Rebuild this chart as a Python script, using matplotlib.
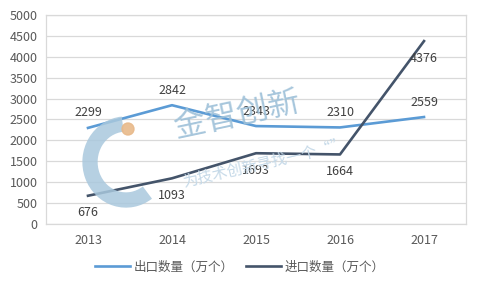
import matplotlib
matplotlib.use("Agg")
import matplotlib.pyplot as plt
from matplotlib.patches import Arc, Circle

plt.rcParams['font.family'] = ['Noto Sans CJK SC', 'DejaVu Sans']

years = ['2013', '2014', '2015', '2016', '2017']
export_qty = [2299, 2842, 2343, 2310, 2559]
import_qty = [676, 1093, 1693, 1664, 4376]
yticks = list(range(0, 5001, 500))

blue = '#5B9BD5'
dark = '#44546A'
text_gray = '#595959'
grid_gray = '#D9D9D9'


def main():
    fig = plt.figure(figsize=(4.8, 2.88), dpi=100)
    ax = fig.add_axes([46 / 480, 64 / 288, 420 / 480, 209 / 288])

    x = list(range(len(years)))
    ax.plot(x, export_qty, color=blue, lw=1.9, label='出口数量（万个）', zorder=3)
    ax.plot(x, import_qty, color=dark, lw=1.9, label='进口数量（万个）', zorder=3)

    for xi, v in zip(x, export_qty):
        ax.annotate(str(v), (xi, v), xytext=(0, 15), textcoords='offset pixels',
                    ha='center', va='center', fontsize=9, color='#404040', zorder=4)
    for xi, v in zip(x, import_qty):
        ax.annotate(str(v), (xi, v), xytext=(0, -17), textcoords='offset pixels',
                    ha='center', va='center', fontsize=9, color='#404040', zorder=4)

    ax.set_xlim(-0.5, 4.5)
    ax.set_ylim(0, 5000)
    ax.set_xticks(x)
    ax.set_xticklabels(years)
    ax.set_yticks(yticks)
    ax.tick_params(length=0, labelsize=9, colors=text_gray)
    ax.tick_params(axis='y', pad=6)
    ax.tick_params(axis='x', pad=7)
    ax.grid(axis='y', color=grid_gray, lw=0.9)
    ax.set_axisbelow(True)
    for sp in ax.spines.values():
        sp.set_color(grid_gray)
        sp.set_linewidth(0.9)

    # faint logo watermark behind the lines
    ring = Arc((126, 288 - 162), 72, 76, angle=0, theta1=95, theta2=305,
               lw=11, color='#A9C8DD', alpha=0.85, transform=None, zorder=2)
    fig.add_artist(ring)
    ball = Circle((128, 288 - 129), 6, color='#E8B98A', alpha=0.9,
                  transform=None, zorder=2)
    fig.add_artist(ball)
    fig.text(237 / 480, 1 - 115 / 288, '金智创新', fontsize=23, color='#9DC0D8',
             rotation=12, ha='center', va='center', alpha=0.9, zorder=2)
    fig.text(265 / 480, 1 - 164 / 288, '为技术创新寻找一个“”', fontsize=11,
             color='#C5D9E8', rotation=13, ha='center', va='center', zorder=2)

    fig.legend(loc='center', bbox_to_anchor=(0.5, 1 - 267 / 288), ncol=2,
               frameon=False, fontsize=9, handlelength=2.8, columnspacing=1.0,
               handletextpad=0.3, labelcolor=text_gray)

    fig.savefig('out.png', dpi=100)


if __name__ == '__main__':
    main()
